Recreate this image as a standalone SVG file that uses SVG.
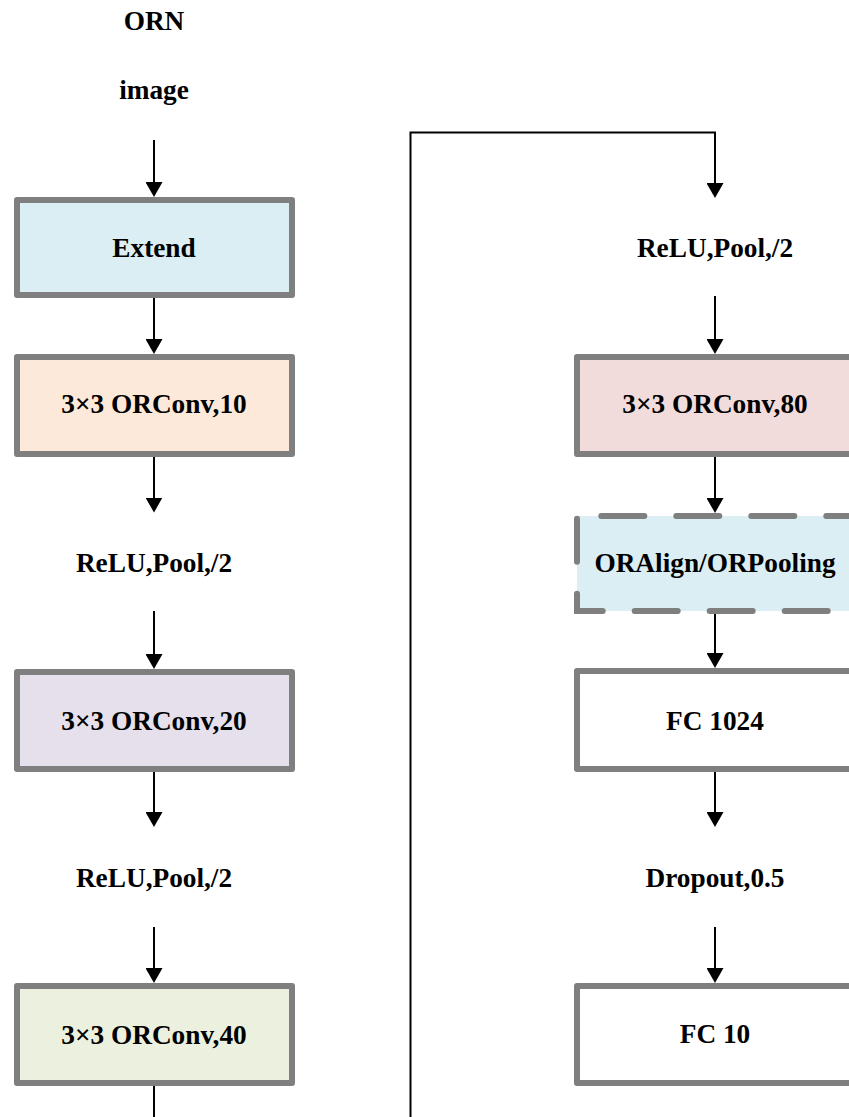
<svg xmlns="http://www.w3.org/2000/svg" width="849" height="1117" viewBox="0 0 849 1117">
  <style>
    .box { stroke: #7f7f7f; stroke-width: 6; stroke-linejoin: round; }
    .dash { fill: none; stroke: #7f7f7f; stroke-width: 6; stroke-linecap: round; stroke-dasharray: 43 32; }
    .lbl { font-family: "Liberation Serif", "Times New Roman", serif; font-weight: bold; font-size: 27.3px; fill: #000; text-anchor: middle; }
    .edge { fill: none; stroke: #000; stroke-width: 2; }
  </style>
  <defs>
    <marker id="arrow" markerUnits="userSpaceOnUse" markerWidth="15" markerHeight="17" viewBox="0 0 15 17" refX="5" refY="8.5" orient="auto">
      <path d="M0,0 L15,8.5 L0,17 z" fill="#000"/>
    </marker>
  </defs>
  <rect width="849" height="1117" fill="#fff"/>

  <!-- left column -->
  <g id="title"><text class="lbl" x="154" y="30">ORN</text></g>
  <g id="input"><text class="lbl" x="154" y="99">image</text></g>
  <g id="extend">
    <rect class="box" x="17" y="200" width="275" height="95" fill="#daeef3"/>
    <text class="lbl" x="154" y="257">Extend</text>
  </g>
  <g id="orconv10">
    <rect class="box" x="17" y="357" width="275" height="97" fill="#fde9d9"/>
    <text class="lbl" x="154" y="413">3×3 ORConv,10</text>
  </g>
  <g id="relu1"><text class="lbl" x="154" y="572">ReLU,Pool,/2</text></g>
  <g id="orconv20">
    <rect class="box" x="17" y="672" width="275" height="97" fill="#e5e0ec"/>
    <text class="lbl" x="154" y="729.5">3×3 ORConv,20</text>
  </g>
  <g id="relu2"><text class="lbl" x="154" y="887">ReLU,Pool,/2</text></g>
  <g id="orconv40">
    <rect class="box" x="17" y="986" width="275" height="97" fill="#ebf1de"/>
    <text class="lbl" x="154" y="1043.5">3×3 ORConv,40</text>
  </g>

  <!-- right column -->
  <g id="relu3"><text class="lbl" x="715" y="257">ReLU,Pool,/2</text></g>
  <g id="orconv80">
    <rect class="box" x="577" y="357" width="275" height="97" fill="#f2dcdb"/>
    <text class="lbl" x="715" y="413">3×3 ORConv,80</text>
  </g>
  <g id="oralign">
    <rect x="577" y="516" width="275" height="95" fill="#daeef3"/>
    <path class="dash" d="M577,516 H852" stroke-dashoffset="50.7"/>
    <path class="dash" d="M577,516 V611 H852" stroke-dashoffset="72.3"/>
    <text class="lbl" x="715" y="572">ORAlign/ORPooling</text>
  </g>
  <g id="fc1024">
    <rect class="box" x="577" y="671" width="275" height="98" fill="#fff"/>
    <text class="lbl" x="715" y="729.5">FC 1024</text>
  </g>
  <g id="dropout"><text class="lbl" x="715" y="887">Dropout,0.5</text></g>
  <g id="fc10">
    <rect class="box" x="577" y="986" width="275" height="97" fill="#fff"/>
    <text class="lbl" x="715" y="1043">FC 10</text>
  </g>

  <!-- connectors -->
  <g id="connectors">
    <path class="edge" d="M154,140 V187" marker-end="url(#arrow)"/>
    <path class="edge" d="M154,298 V344" marker-end="url(#arrow)"/>
    <path class="edge" d="M154,457 V502.5" marker-end="url(#arrow)"/>
    <path class="edge" d="M154,611 V659" marker-end="url(#arrow)"/>
    <path class="edge" d="M154,772 V817" marker-end="url(#arrow)"/>
    <path class="edge" d="M154,927 V973" marker-end="url(#arrow)"/>
    <path class="edge" d="M154,1086 V1120"/>
    <path class="edge" d="M410.5,1120 V132.5 H715 V188" marker-end="url(#arrow)"/>
    <path class="edge" d="M715,296 V344" marker-end="url(#arrow)"/>
    <path class="edge" d="M715,457 V503" marker-end="url(#arrow)"/>
    <path class="edge" d="M715,614 V658" marker-end="url(#arrow)"/>
    <path class="edge" d="M715,772 V817" marker-end="url(#arrow)"/>
    <path class="edge" d="M715,927 V973" marker-end="url(#arrow)"/>
  </g>
</svg>
